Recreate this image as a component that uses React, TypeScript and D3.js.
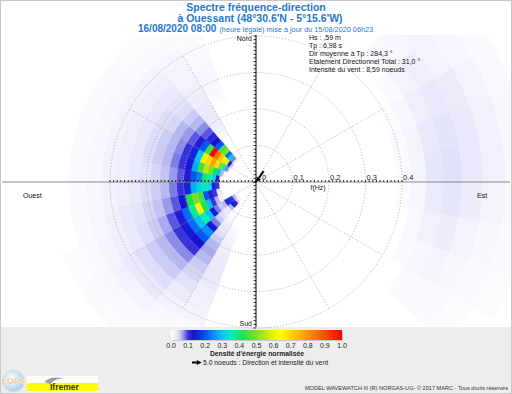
import * as d3 from 'd3';

const W = 512;
const H = 394;
const cx = 256;
const cy = 182;

// fréquences du modèle (Hz)
const freqs = [
  0.0373, 0.041, 0.0451, 0.0496, 0.0546, 0.0601, 0.0661, 0.0727, 0.08, 0.088,
  0.0968, 0.1065, 0.1171, 0.1288, 0.1417, 0.1559, 0.1715, 0.1886, 0.2075,
  0.2282, 0.2511, 0.2762, 0.3038, 0.3342, 0.3676, 0.4044, 0.4448, 0.4893,
  0.5382, 0.592, 0.6512, 0.7164,
];
// première fréquence des lignes du tableau
const FIRST = 6;

// secteurs de direction (début du secteur, degrés, pas de 10)
const dirBins = [40, 50, 60, 70, 80, 90, 100, 110, 120, 200, 210, 220, 230, 240, 250, 260, 270, 280, 290, 300, 310, 320, 330];

// densité normalisée, une ligne par secteur, fréquences FIRST..31
const energy = [
  [0, 0, 0, 0, 0, 0, 0, 0, 0, 0, 0, 0, 0, 0, 0, 0, 0, 0, 0, 0, 0, 0.01, 0.015, 0.02, 0.015, 0.01],
  [0, 0, 0, 0, 0, 0, 0, 0, 0, 0, 0, 0, 0, 0, 0, 0, 0, 0, 0, 0, 0.01, 0.02, 0.025, 0.02, 0.015, 0.01],
  [0, 0, 0, 0, 0, 0, 0, 0, 0, 0, 0, 0, 0, 0, 0, 0, 0, 0, 0, 0.005, 0.015, 0.025, 0.03, 0.028, 0.02, 0.012],
  [0, 0, 0, 0, 0, 0, 0, 0, 0, 0, 0, 0, 0, 0, 0, 0, 0, 0, 0, 0.008, 0.018, 0.03, 0.035, 0.03, 0.022, 0.014],
  [0, 0, 0, 0, 0, 0, 0, 0, 0, 0, 0, 0, 0, 0, 0, 0, 0, 0, 0, 0.008, 0.018, 0.032, 0.038, 0.03, 0.022, 0.014],
  [0, 0, 0, 0, 0, 0, 0, 0, 0, 0, 0, 0, 0, 0, 0, 0, 0, 0, 0, 0.006, 0.015, 0.028, 0.032, 0.026, 0.018, 0.012],
  [0, 0, 0, 0, 0, 0, 0, 0, 0, 0, 0, 0, 0, 0, 0, 0, 0, 0, 0, 0, 0.012, 0.022, 0.026, 0.02, 0.014, 0.01],
  [0, 0, 0, 0, 0, 0, 0, 0, 0, 0, 0, 0, 0, 0, 0, 0, 0, 0, 0, 0, 0.008, 0.015, 0.018, 0.014, 0.01, 0.006],
  [0, 0, 0, 0, 0, 0, 0, 0, 0, 0, 0, 0, 0, 0, 0, 0, 0, 0, 0, 0, 0, 0.008, 0.01, 0.008, 0.005, 0],
  [0, 0, 0, 0, 0, 0, 0, 0, 0.012, 0.015, 0.018, 0.022, 0.025, 0.028, 0.03, 0.03, 0.028, 0.025, 0.022, 0.016, 0.01, 0.006, 0, 0, 0, 0],
  [0, 0, 0, 0, 0, 0.01, 0.012, 0.018, 0.025, 0.032, 0.04, 0.05, 0.06, 0.065, 0.06, 0.05, 0.045, 0.036, 0.028, 0.02, 0.014, 0.008, 0, 0, 0, 0],
  [0.02, 0.05, 0.12, 0.14, 0.06, 0.03, 0.03, 0.04, 0.05, 0.08, 0.14, 0.25, 0.2, 0.13, 0.1, 0.075, 0.06, 0.05, 0.04, 0.03, 0.02, 0.012, 0.006, 0, 0, 0],
  [0.03, 0.06, 0.1, 0.17, 0.12, 0.06, 0.05, 0.08, 0.14, 0.3, 0.36, 0.3, 0.22, 0.14, 0.1, 0.075, 0.06, 0.05, 0.04, 0.03, 0.022, 0.014, 0.008, 0, 0, 0],
  [0, 0, 0, 0, 0, 0.02, 0.06, 0.1, 0.3, 0.42, 0.65, 0.38, 0.22, 0.12, 0.09, 0.065, 0.05, 0.04, 0.03, 0.025, 0.018, 0.01, 0.005, 0, 0, 0],
  [0, 0, 0, 0, 0, 0.03, 0.1, 0.12, 0.2, 0.45, 0.5, 0.42, 0.13, 0.09, 0.07, 0.055, 0.045, 0.035, 0.03, 0.022, 0.016, 0.01, 0, 0, 0, 0],
  [0, 0, 0, 0, 0, 0.1, 0.14, 0.33, 0.35, 0.32, 0.28, 0.15, 0.1, 0.08, 0.06, 0.05, 0.04, 0.03, 0.025, 0.02, 0.015, 0.008, 0, 0, 0, 0],
  [0, 0, 0, 0, 0.02, 0.12, 0.32, 0.36, 0.4, 0.24, 0.2, 0.12, 0.09, 0.07, 0.055, 0.045, 0.035, 0.03, 0.025, 0.02, 0.014, 0.008, 0, 0, 0, 0],
  [0, 0, 0, 0.02, 0.06, 0.3, 0.42, 0.5, 0.55, 0.45, 0.28, 0.14, 0.1, 0.08, 0.06, 0.05, 0.04, 0.03, 0.025, 0.02, 0.014, 0.008, 0, 0, 0, 0],
  [0, 0, 0.03, 0.08, 0.35, 0.5, 0.68, 0.78, 0.7, 0.62, 0.3, 0.15, 0.1, 0.075, 0.06, 0.05, 0.04, 0.03, 0.025, 0.02, 0.014, 0.008, 0, 0, 0, 0],
  [0, 0, 0.05, 0.15, 0.6, 0.62, 0.72, 0.85, 1.0, 0.45, 0.2, 0.12, 0.09, 0.07, 0.06, 0.045, 0.04, 0.03, 0.025, 0.02, 0.014, 0.008, 0, 0, 0, 0],
  [0, 0, 0.03, 0.08, 0.3, 0.22, 0.5, 0.45, 0.2, 0.13, 0.11, 0.09, 0.075, 0.06, 0.05, 0.04, 0.035, 0.03, 0.025, 0.02, 0.012, 0.006, 0, 0, 0, 0],
  [0, 0, 0, 0, 0, 0, 0, 0, 0, 0.015, 0.02, 0.025, 0.03, 0.03, 0.028, 0.026, 0.024, 0.02, 0.018, 0.015, 0.01, 0.005, 0, 0, 0, 0],
  [0, 0, 0, 0, 0, 0, 0, 0, 0, 0, 0, 0, 0, 0, 0.01, 0.014, 0.016, 0.015, 0.012, 0.01, 0.006, 0, 0, 0, 0, 0],
];

// palette
const colorStops = [0, 0.02, 0.04, 0.06, 0.08, 0.1, 0.13, 0.18, 0.25, 0.31, 0.36, 0.42, 0.5, 0.58, 0.64, 0.72, 0.84, 1];
const colorValues = [
  '#ffffff', '#f3f3fd', '#dedef8', '#b8b8f1', '#7c7ce6', '#3a30dc', '#1a10d0', '#0040f0', '#0090f8',
  '#00d0f0', '#00f0b0', '#20e050', '#80e020', '#d8f000', '#ffff00', '#ffc800', '#ff7800', '#ff0000',
];

const rTicks = [0, 0.1, 0.2, 0.3, 0.4];
const spokeDirs = [30, 60, 120, 150, 210, 240, 300, 330];
const cbTicks = [0, 0.1, 0.2, 0.3, 0.4, 0.5, 0.6, 0.7, 0.8, 0.9, 1.0];
const infoLines = [
  'Hs : ,59 m',
  'Tp : 6,98 s',
  'Dir moyenne à Tp : 284,3 °',
  'Etalement Directionnel Total : 31,0 °',
  'Intensité du vent : 8,59 noeuds',
];
const windDir = 35;
const windSpeed = 8.59;
const legendSpeed = 5.0;

const BLUE = '#1f78d1';
const FONT = '"Liberation Sans", Arial, sans-serif';

const rScale = d3.scaleLinear().domain([0, 0.4]).range([0, 146]);
const color = d3
  .scaleLinear<string>()
  .domain(colorStops)
  .range(colorValues)
  .interpolate(d3.interpolateRgb)
  .clamp(true);
const cbScale = d3.scaleLinear().domain([0, 1]).range([171, 342]);
const rad = (deg: number) => (deg * Math.PI) / 180;

const freqEdges = (i: number) => {
  const f = freqs;
  const lo = i === 0 ? f[0] - (f[1] - f[0]) / 2 : (f[i - 1] + f[i]) / 2;
  const hi = i === f.length - 1 ? f[i] + (f[i] - f[i - 1]) / 2 : (f[i] + f[i + 1]) / 2;
  return [lo, hi];
};

const arrow = (x0: number, y0: number, x1: number, y1: number) => {
  // flèche de (x0,y0) vers (x1,y1), pointe en (x1,y1)
  const a = Math.atan2(y1 - y0, x1 - x0);
  const hl = 5;
  const hw = 2.6;
  const bx = x1 - hl * Math.cos(a);
  const by = y1 - hl * Math.sin(a);
  const px = -Math.sin(a);
  const py = Math.cos(a);
  return (
    <g>
      <line x1={x0} y1={y0} x2={bx} y2={by} stroke="#000" strokeWidth={2} />
      <polygon
        points={`${x1},${y1} ${bx + px * hw},${by + py * hw} ${bx - px * hw},${by - py * hw}`}
        fill="#000"
      />
    </g>
  );
};

export default function App() {
  const arcGen = d3.arc<any>();
  const cells: { d: string; c: string }[] = [];
  dirBins.forEach((dir, j) => {
    energy[j].forEach((v, k) => {
      if (v <= 0.003) return;
      const [lo, hi] = freqEdges(FIRST + k);
      const path = arcGen({
        innerRadius: rScale(lo),
        outerRadius: rScale(hi),
        startAngle: rad(dir),
        endAngle: rad(dir + 10),
      }) as string;
      cells.push({ d: path, c: color(v) });
    });
  });

  const minorTicks = rScale.ticks(40);
  const pxPerKnot = 1.55;
  const wl = windSpeed * pxPerKnot;
  const wx = cx + wl * Math.sin(rad(windDir));
  const wy = cy - wl * Math.cos(rad(windDir));

  const gradStops = d3.range(0, 1.0001, 0.01);

  return (
    <svg
      width={W}
      height={H}
      style={{ position: 'absolute', left: 0, top: 0, fontFamily: FONT }}
    >
      <defs>
        <clipPath id="plotClip">
          <rect x={1} y={35} width={509} height={292} />
        </clipPath>
        <linearGradient id="cbGrad" x1="0" x2="1" y1="0" y2="0">
          {gradStops.map((s) => (
            <stop key={s} offset={s} stopColor={color(s)} />
          ))}
        </linearGradient>
        <radialGradient id="lopsGrad" cx="0.4" cy="0.4" r="0.7">
          <stop offset="0" stopColor="#ffffff" />
          <stop offset="1" stopColor="#9cc8e8" />
        </radialGradient>
      </defs>

      <rect x={0.5} y={0.5} width={W - 1} height={H - 1} fill="#fff" stroke="#c8c8c8" />
      <rect x={1} y={327} width={W - 2} height={H - 328} fill="#ededed" />

      {/* spectre */}
      <g clipPath="url(#plotClip)">
        <g transform={`translate(${cx},${cy})`}>
          {cells.map((c, i) => (
            <path key={i} d={c.d} fill={c.c} stroke={c.c} strokeWidth={0.4} />
          ))}
        </g>
      </g>

      {/* axe horizontal */}
      <line x1={2} x2={510} y1={cy} y2={cy} stroke="#8a8a8a" strokeWidth={1} />

      {/* grille polaire */}
      <g transform={`translate(${cx},${cy})`} fill="none" stroke="#9a9a9a" strokeWidth={0.8} strokeDasharray="1 2">
        {rTicks.slice(1).map((t) => (
          <circle key={t} r={rScale(t)} />
        ))}
        {spokeDirs.map((d) => (
          <line
            key={d}
            x1={0}
            y1={0}
            x2={rScale(0.4) * Math.sin(rad(d))}
            y2={-rScale(0.4) * Math.cos(rad(d))}
          />
        ))}
      </g>

      {/* axe vertical */}
      <line x1={cx} x2={cx} y1={35} y2={327} stroke="#000" strokeWidth={1} />
      <g stroke="#000" strokeWidth={0.8}>
        {minorTicks.map((t) => (
          <g key={t}>
            <line x1={cx - 2.5} x2={cx} y1={cy - rScale(t)} y2={cy - rScale(t)} />
            <line x1={cx - 2.5} x2={cx} y1={cy + rScale(t)} y2={cy + rScale(t)} />
            <line x1={cx + rScale(t)} x2={cx + rScale(t)} y1={cy - 2} y2={cy} />
            <line x1={cx - rScale(t)} x2={cx - rScale(t)} y1={cy - 2} y2={cy} />
          </g>
        ))}
      </g>

      {/* graduations en fréquence */}
      <g fontSize={7.5} fill="#222">
        {rTicks.map((t) => (
          <text key={t} x={cx + rScale(t) + (t === 0 ? 6 : 1)} y={179.5}>
            {t === 0 ? '0' : t.toFixed(1)}
          </text>
        ))}
        <text x={cx + rScale(0.17)} y={189.5} textAnchor="middle" fontSize={7}>
          f(Hz)
        </text>
      </g>

      {/* points cardinaux */}
      <g fontSize={7} fill="#111">
        <text x={252} y={41} textAnchor="end">Nord</text>
        <text x={252} y={326} textAnchor="end">Sud</text>
        <text x={23} y={198}>Ouest</text>
        <text x={477} y={198}>Est</text>
      </g>

      {/* vent */}
      {arrow(wx, wy, cx, cy)}

      {/* titres */}
      <g fill={BLUE} fontWeight="bold">
        <text x={256} y={10.5} textAnchor="middle" fontSize={10.5}>
          Spectre fréquence-direction
        </text>
        <text x={260} y={21.5} textAnchor="middle" fontSize={10.5}>
          à Ouessant (48°30.6'N - 5°15.6'W)
        </text>
        <text x={138} y={31.5} fontSize={10}>
          16/08/2020 08:00
          <tspan fontWeight="normal" fontSize={7.3} dx={3}>
            (heure légale) mise à jour du 15/08/2020 06h23
          </tspan>
        </text>
      </g>

      {/* paramètres */}
      <g fontSize={7} fill="#111">
        {infoLines.map((l, i) => (
          <text key={i} x={309} y={39.5 + i * 8.2}>
            {l}
          </text>
        ))}
      </g>

      {/* échelle de couleurs */}
      <rect x={cbScale(0) + 1} y={331} width={cbScale(1) - cbScale(0)} height={10} fill="#c8c8c8" />
      <rect x={cbScale(0)} y={330} width={cbScale(1) - cbScale(0)} height={10} fill="url(#cbGrad)" />
      <g fontSize={7} fill="#222" textAnchor="middle">
        {cbTicks.map((t) => (
          <text key={t} x={cbScale(t)} y={348}>
            {t.toFixed(1)}
          </text>
        ))}
      </g>
      <text x={257} y={355.5} textAnchor="middle" fontSize={6.8} fontWeight="bold" fill="#222">
        Densité d'énergie normalisée
      </text>
      {arrow(192, 362.5, 192 + legendSpeed * pxPerKnot + 2, 362.5)}
      <text x={203} y={365} fontSize={6.8} fill="#222">
        {legendSpeed.toFixed(1)} noeuds : Direction et intensité du vent
      </text>

      <text x={508} y={390} textAnchor="end" fontSize={5.6} fill="#333">
        MODEL WAVEWATCH III (R) NORGAS-UG- © 2017 MARC - Tous droits réservés
      </text>

      {/* logos */}
      <circle cx={13.5} cy={381} r={11} fill="url(#lopsGrad)" stroke="#e0e0e0" />
      <text x={13.5} y={384} textAnchor="middle" fontSize={8.5} fontWeight="bold" fill="#f08a24" stroke="#fff" strokeWidth={0.5}>
        LOPS
      </text>
      <rect x={27} y={376} width={71} height={16} fill="#fff" />
      <rect x={27} y={383} width={71} height={8} fill="#ffff00" />
      <path d="M44,382 Q52,375 64,379 Q56,378 50,384 Z" fill="#a0a0a0" />
      <text x={50} y={390} fontSize={8.5} fontWeight="bold" fill="#333">
        Ifremer
      </text>
    </svg>
  );
}
